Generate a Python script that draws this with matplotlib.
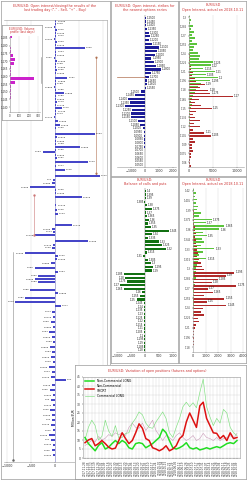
import numpy as np
import pandas as pd
import matplotlib
matplotlib.use('Agg')
import matplotlib.pyplot as plt
from matplotlib.lines import Line2D

W, H = 247, 480
RED = '#cc3333'
BLUE = '#4646c8'
NAVY = '#1c1c96'
DKGREEN = '#127012'
CALL = '#5cc43c'
PUT = '#b02a2a'
GRID = '#d4d4d4'
EDGE = '#9a9a9a'

# left panel: open interest / closing by price level
left_prices = [1.2195, 1.218, 1.2165, 1.215, 1.2135, 1.212, 1.2105, 1.209, 1.2075, 1.206,
               1.204, 1.2025, 1.201, 1.1995, 1.198, 1.1965, 1.195, 1.1935, 1.191, 1.1895,
               1.188, 1.1865, 1.185, 1.1835, 1.182, 1.1805, 1.179, 1.1775, 1.176, 1.1745,
               1.173, 1.1715, 1.1695, 1.1675, 1.166, 1.163, 1.1615, 1.1595, 1.158, 1.1565,
               1.155, 1.154, 1.1525, 1.151, 1.149, 1.147, 1.145, 1.142, 1.14, 1.1385,
               1.1365, 1.135, 1.1335, 1.1315, 1.1275, 1.125, 1.123, 1.1175, 1.1155, 1.114,
               1.1125, 1.1095, 1.1075, 1.106, 1.1035, 1.102, 1.1005, 1.0985, 1.096, 1.094,
               1.092, 1.0905, 1.089, 1.085, 1.0835, 1.081, 1.079, 1.077, 1.074, 1.0715,
               1.069, 1.0665, 1.064, 1.0615, 1.059, 1.0565, 1.054, 1.0515, 1.049, 1.0465,
               1.044, 1.0415, 1.04, 1.0375, 1.035, 1.0325, 1.03, 1.0275, 1.025, 1.0225,
               1.02, 1.0175, 1.015, 1.0125, 1.01, 1.0075, 1.005, 1.0025]
left_values = [30, 20, -20, 40, 20, 30, -30, 40, 20, 620,
               30, 20, -30, 40, 20, 30, 40, 20, 260, 30,
               20, -20, 30, 180, 30, 20, 40, 20, 150, 30,
               20, -30, 60, 100, 30, 830, 40, 20, 30, 520,
               30, -260, 20, 40, 690, 30, 200, 930, -40, -60,
               -520, 30, 20, 560, 30, 40, 60, 350, -60, -40,
               -420, 690, -40, -60, -625, 60, 40, -80, -420, 60,
               -350, -420, -350, -520, 60, -625, -830, 120, -60, -40,
               -90, -50, -120, -70, -40, -100, -60, -80, -50, -130,
               -70, -90, 220, -60, -110, -50, -80, -40, -100, -70,
               -60, -90, -50, -120, -80, -40, -70, -50]

# volume profile inset
vp_ticks = [1.185, 1.18, 1.175, 1.17, 1.165, 1.16, 1.155, 1.15, 1.145, 1.14]
vp_prices = [1.186, 1.1835, 1.181, 1.1785, 1.176, 1.1735, 1.171, 1.1685, 1.166, 1.1635,
             1.161, 1.1585, 1.156, 1.1535, 1.151, 1.1485, 1.146, 1.1435, 1.141, 1.1385]
vp_values = [20, 5, 5, 8, 10, 30, 50, 45, 8, 10, 12, 260, 50, 10, 8, 6, 10, 5, 4, 3]

# top middle: open interest by strike, nearest series
oi_strikes = np.round(np.arange(1.25, 1.0499, -0.005), 4)
oi_values = [40, 60, 50, 150, 250, 350, 300, 500, 1000, 850,
             700, 450, 600, 800, 1150, 400, 250, 150, 120, 80,
             -300, -700, -1200, -1050, -1400, -900, -1000, -1000, -500, -350,
             -150, -100, -80, -60, -60, -50, -40, -40, -30, -30, -20]

# top right: calls / puts open interest
tr_strikes = np.round(np.arange(1.30, 1.0549, -0.005), 3)
tr_calls = [300, 500, 200, 800, 400, 1000, 600, 1200, 700, 1600,
            1100, 900, 1800, 2300, 2000, 5000, 4600, 3000, 5400, 3500,
            6000, 4400, 2500, 1800, 1500, 1200, 900, 700, 500, 600,
            400, 300, 250, 300, 200, 150, 200, 100, 150, 100,
            80, 100, 60, 50, 40, 50, 30, 30, 20, 20]
tr_puts = [0, 0, 20, 0, 30, 0, 50, 40, 80, 60,
           100, 80, 150, 200, 300, 250, 500, 400, 900, 700,
           1200, 1500, 3300, 2200, 4000, 4400, 9200, 2000, 1250, 2600,
           4800, 1500, 900, 1200, 2300, 1000, 2300, 800, 3200, 4600,
           900, 1200, 700, 600, 900, 400, 500, 300, 200, 400]

# middle middle: balance by strike
mm_strikes = np.round(np.arange(1.40, 1.1799, -0.005), 3)
mm_values = [20, 30, 40, -20, 60, 250, 30, 80, 150, 120,
             200, 850, 250, 100, 500, 600, 750, 80, -60, 100,
             200, 300, 250, -750, -700, -650, -900, -750, -100, -170,
             -300, -40, -30, -50, -20, -30, -20, -40, -20, -30,
             -20, -20, -30, -20, -20]

# middle right: calls / puts open interest
mr_strikes = np.round(np.arange(1.42, 1.1749, -0.005), 3)
mr_calls = [100, 200, 150, 300, 250, 400, 350, 600, 500, 1500,
            1000, 2500, 2100, 800, 1100, 700, 900, 600, 1700, 800,
            500, 1050, 400, 300, 250, 200, 150, 200, 100, 150,
            100, 80, 60, 80, 50, 40, 50, 30, 40, 20,
            30, 20, 20, 10, 20, 10, 10, 10, 0, 0]
mr_puts = [0, 0, 20, 0, 30, 20, 50, 40, 80, 60,
           100, 150, 120, 200, 150, 250, 200, 300, 350, 400,
           300, 500, 600, 700, 900, 3300, 2600, 2000, 1500, 3450,
           1200, 1600, 900, 2500, 1100, 2650, 800, 600, 900, 400,
           500, 200, 150, 100, 80, 60, 50, 40, 30, 20]

# bottom: COT positions, millions EUR
nc_long = [11.4, 8, 6, 4, 7, 8.5, 5, 6, 8, 9.7, 8,
           9.7, 8.5, 5.7, 5, 8, 8.5, 8, 5.7, 6.8, 8, 9.7, 11.4, 16, 14, 9.7,
           5.7, 5, 5.7, 6.8, 8.5, 5.7, 5, 5.7, 4.5, 5, 5.7, 5, 5.7, 6.3, 5.7,
           6.8, 8, 8.5, 8, 9.7]
nc_short = [8.5, 10, 10.8, 6.8, 8, 9.7, 8, 6, 5, 5.5, 9.7,
            14, 10.8, 8, 9.7, 14, 19, 16.5, 10.8, 9.7, 5.7, 5, 4, 5, 6.8, 4,
            5, 6.8, 10.8, 12.5, 20, 25, 21, 17, 29, 31, 22, 18, 14, 13.7, 10.8,
            12.5, 9.7, 14, 10.8, 11.4]
c_long = [10, 17, 21, 18, 10, 12, 21, 15, 12, 18, 11,
          11.4, 13.7, 14, 19.4, 22, 25.6, 24, 19.4, 17, 16.5, 20, 22.8, 25.6, 22, 14,
          11.4, 17, 22, 28.5, 31, 28.5, 30.7, 27.9, 36.4, 43.8, 28.5, 22.8, 18, 22, 19.4,
          27, 25, 17, 14, 12.5]
c_short = [7, 8, 10, 9, 12, 10, 11, 13, 12, 14, 13,
           14, 12.5, 17, 19.4, 17, 16.5, 19.4, 15.3, 18, 21, 15.3, 12.5, 9.7, 12.5, 11.4,
           9.7, 12.5, 14, 11.4, 9.7, 10.8, 12.5, 9.7, 10.8, 13.7, 11.4, 10.8, 9.7, 11.4, 9.7,
           10.8, 11.4, 12.5, 10.8, 13.7]
cot_dates = pd.date_range(end='2018-10-09', periods=len(nc_long), freq='7D').strftime('%Y.%m.%d')

plt.rcParams.update({
    'font.size': 2.4, 'axes.linewidth': 0.4,
    'xtick.major.size': 1, 'xtick.major.width': 0.3, 'xtick.major.pad': 0.6,
    'ytick.major.size': 1, 'ytick.major.width': 0.3, 'ytick.major.pad': 0.6,
    'xtick.color': '#333333', 'ytick.color': '#333333',
})

fig = plt.figure(figsize=(W / 100, H / 100), dpi=100, facecolor='white')


def px_axes(x0, y0, x1, y1, z=1):
    ax = fig.add_axes([x0 / W, 1 - y1 / H, (x1 - x0) / W, (y1 - y0) / H])
    ax.set_zorder(z)
    return ax


def frame(x0, y0, x1, y1, z=0):
    f = px_axes(x0, y0, x1, y1, z)
    f.set_xticks([])
    f.set_yticks([])
    for s in f.spines.values():
        s.set_color(EDGE)
        s.set_linewidth(0.5)
    return f


def title(x, y, s, z=3, fs=2.4):
    fig.text(x / W, 1 - y / H, s, color=RED, fontsize=fs, ha='center', va='center',
             linespacing=1.0, zorder=z)


def bar_labels(ax, ys, vals, texts, off, fs=2.0, minv=None):
    for y, v, t in zip(ys, vals, texts):
        if minv is not None and abs(v) < minv:
            continue
        if v >= 0:
            ax.text(v + off, y, t, fontsize=fs, ha='left', va='center', color='#222222')
        else:
            ax.text(v - off, y, t, fontsize=fs, ha='right', va='center', color='#222222')


def light_spines(ax, keep=('bottom',)):
    for k, s in ax.spines.items():
        s.set_visible(k in keep)
        s.set_color(EDGE)
        s.set_linewidth(0.4)


# ---------------- left panel
frame(1, 1, 110, 479, 0)
title(55, 7.5, 'EUR/USD: Open interest/closing/the results of the\n'
               'last trading day ("-" - Sell, "+" - Buy)')
ax = px_axes(4, 20, 107, 462, 1)
ax.set_facecolor('none')
ax.set_xlim(-1062, 1083)
ax.set_ylim(0.999, 1.22)
for g in (-1000, -500, 500, 1000):
    ax.axvline(g, color=GRID, lw=0.3, zorder=0)
ax.axvline(0, color='#7777bb', lw=0.4, zorder=1)
ax.barh(left_prices, left_values, height=0.0006, color=BLUE, zorder=2)
bar_labels(ax, left_prices, left_values,
           [f'{p:.4f}'.rstrip('0') for p in left_prices], 18, fs=1.7)
ax.plot([855, 855], [1.2015, 1.1435], color='#b07050', lw=0.4)
ax.plot([855, 855], [1.2015, 1.1435], ls='none', marker='^', ms=0.8, color='#b07050')
ax.plot([-440, -440], [1.1325, 1.1125], color='#cc7777', lw=0.4)
ax.plot([-440, -440], [1.1325, 1.1125], ls='none', marker='o', ms=0.7, color='#cc7777')
ax.plot([-875, -875], [1.104, 1.0], color='#888888', lw=0.4)
ax.plot([-875], [1.0], marker='o', ms=0.8, color='#666666')
ax.set_yticks([])
ax.set_xticks([-1000, -500, 0])
light_spines(ax, keep=('bottom', 'top', 'right'))
fig.add_artist(Line2D([41 / W, 41 / W], [1 - 57 / H, 1 - 83 / H], color='#888888',
                      lw=0.4, zorder=10))

# volume profile inset
fi = frame(2, 25, 42, 120, 2)
fi.set_facecolor('white')
title(22, 30.5, 'EUR/USD: Volume\nprofile (last days)', z=4, fs=2.1)
ai = px_axes(10, 36, 40, 112, 3)
ai.set_xlim(0, 320)
ai.set_ylim(1.1368, 1.1863)
ai.barh(vp_prices, vp_values, height=0.0018, color='#cc22cc', zorder=2)
ai.set_yticks(vp_ticks)
ai.set_yticklabels([f'{t:.3f}' for t in vp_ticks], fontsize=1.9)
ai.set_xticks([0, 100, 200, 300])
ai.tick_params(axis='x', labelsize=1.9)
ai.grid(axis='x', color=GRID, lw=0.3)
light_spines(ai, keep=('bottom', 'left'))

# ---------------- top middle
frame(111, 1, 178, 176, 0)
title(145, 7.5, 'EUR/USD: Open interest, strikes for\nthe nearest options series')
a1 = px_axes(117, 15, 176, 167, 1)
a1.set_facecolor('none')
rows = np.arange(len(oi_strikes))
a1.set_xlim(-2000, 2200)
a1.set_ylim(len(rows) - 0.5, -0.8)
a1.axvline(0, color='#555555', lw=0.3)
a1.barh(rows, oi_values, height=0.62, color=NAVY, zorder=2)
a1.plot([-2000, 0], [16, 16], color='#b07050', lw=0.5)
bar_labels(a1, rows, oi_values, [f'{s:.4f}' for s in oi_strikes], 60, fs=1.9)
a1.set_yticks([])
a1.set_xticks([-1000, 0, 1000, 2000])
light_spines(a1)

# ---------------- top right
frame(179, 1, 246, 176, 0)
title(213, 7.5, 'EUR/USD\nOpen Interest, actual on 2018.10.11')
a2 = px_axes(189, 15, 244, 167, 1)
a2.set_facecolor('none')
rows = np.arange(len(tr_strikes))
a2.set_xlim(0, 11500)
a2.set_ylim(len(rows) - 0.5, -0.8)
for g in (5000, 10000):
    a2.axvline(g, color=GRID, lw=0.3, zorder=0)
a2.barh(rows - 0.2, tr_calls, height=0.45, color=CALL, zorder=2)
a2.barh(rows + 0.2, tr_puts, height=0.45, color=PUT, zorder=2)
big = [max(c, p) for c, p in zip(tr_calls, tr_puts)]
bar_labels(a2, rows, big, [f'{s:g}' for s in tr_strikes], 250, fs=1.9, minv=3000)
a2.set_yticks(rows[::3])
a2.set_yticklabels([f'{s:g}' for s in tr_strikes[::3]], fontsize=1.8)
a2.set_xticks([0, 5000, 10000])
light_spines(a2, keep=('bottom', 'left'))

# ---------------- middle middle
frame(111, 177, 178, 363, 0)
title(145, 182.5, 'EUR/USD:\nBalance of calls and puts')
a3 = px_axes(117, 188, 176, 352, 1)
a3.set_facecolor('none')
rows = np.arange(len(mm_strikes))
a3.set_xlim(-1000, 1107)
a3.set_ylim(len(rows) - 0.5, -0.8)
a3.axvline(0, color='#555555', lw=0.3)
a3.barh(rows, mm_values, height=0.62, color=DKGREEN, zorder=2)
bar_labels(a3, rows, mm_values, [f'{s:g}' for s in mm_strikes], 30, fs=1.9)
a3.set_yticks([])
a3.set_xticks([-1000, -500, 0, 500, 1000])
light_spines(a3)

# ---------------- middle right
frame(179, 177, 246, 363, 0)
title(213, 182.5, 'EUR/USD\nOpen Interest, actual on 2018.10.11')
a4 = px_axes(193, 188, 245, 352, 1)
a4.set_facecolor('none')
rows = np.arange(len(mr_strikes))
a4.set_xlim(0, 4160)
a4.set_ylim(len(rows) - 0.5, -0.8)
for g in (1000, 2000, 3000, 4000):
    a4.axvline(g, color=GRID, lw=0.3, zorder=0)
a4.barh(rows - 0.2, mr_calls, height=0.45, color=CALL, zorder=2)
a4.barh(rows + 0.2, mr_puts, height=0.45, color=PUT, zorder=2)
big = [max(c, p) for c, p in zip(mr_calls, mr_puts)]
bar_labels(a4, rows, big, [f'{s:g}' for s in mr_strikes], 90, fs=1.9, minv=1000)
a4.set_yticks(rows[::3])
a4.set_yticklabels([f'{s:g}' for s in mr_strikes[::3]], fontsize=1.8)
a4.set_xticks([0, 1000, 2000, 3000, 4000])
light_spines(a4, keep=('bottom', 'left'))

# ---------------- bottom: COT positions
fb = frame(75, 365, 246, 479, 4)
fb.set_facecolor('white')
fig.text(108 / W, 1 - 371 / H, 'EUR/USD: Variation of open positions (futures and options)',
         color=RED, fontsize=2.4, ha='left', va='center', zorder=7)
a5 = px_axes(83, 377, 240, 458, 5)
x = np.arange(len(nc_long))
a5.plot(x, c_short, color='#c99ab8', lw=0.4)
a5.plot(x, c_long, color='#7fe07f', lw=0.45, label='Commercial LONG')
a5.plot(x, nc_long, color='#22dd22', lw=1.1, label='Non-Commercial LONG')
a5.plot(x, nc_short, color='#dd1111', lw=1.1, label='Non-Commercial\nSHORT')
a5.set_xlim(-0.6, len(x) - 0.1)
a5.set_ylim(0, 45)
a5.set_yticks(range(0, 46, 5))
a5.tick_params(axis='y', labelsize=2.2)
a5.set_xticks(x)
a5.set_xticklabels(cot_dates, rotation=90, fontsize=2.0)
a5.grid(color=GRID, lw=0.3)
a5.set_ylabel('Million EUR', fontsize=2.2, labelpad=0.8)
for s in a5.spines.values():
    s.set_color(EDGE)
    s.set_linewidth(0.4)
h, l = a5.get_legend_handles_labels()
a5.legend([h[1], h[2], h[0]], [l[1], l[2], l[0]], loc='upper left', fontsize=2.2,
          frameon=False, handlelength=3, borderaxespad=0.3, labelspacing=0.3)

fig.savefig('out.png', dpi=100, facecolor='white')
